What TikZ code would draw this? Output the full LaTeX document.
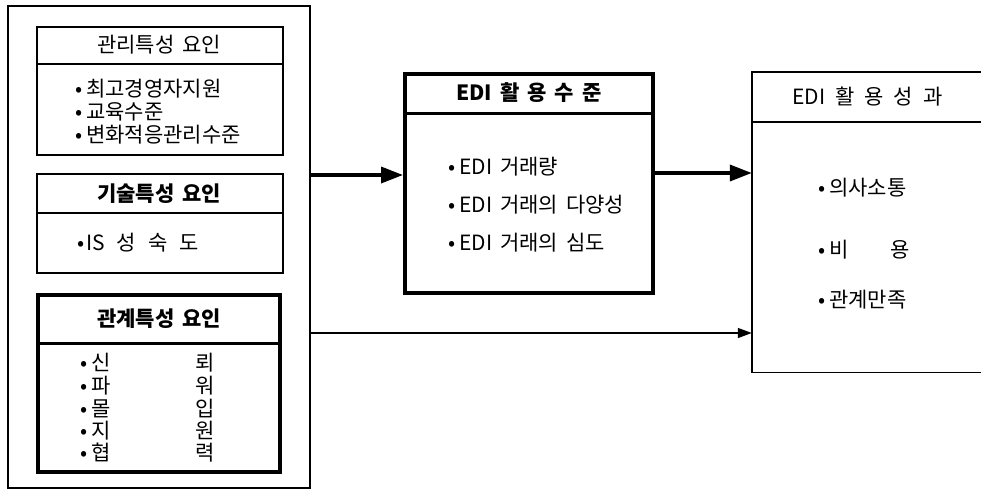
\documentclass[tikz,border=0pt]{standalone}
\usepackage{fontspec}
\setmainfont{Noto Sans CJK KR}
\usetikzlibrary{arrows.meta}
\newcommand{\puce}{•\hspace{4pt}}
\tikzstyle{cadre}=[draw,line width=1.4pt,inner sep=0pt]
\tikzstyle{gras}=[draw,line width=4pt,inner sep=0pt]
\tikzstyle{titre}=[inner sep=0pt,font={\fontsize{21}{25}\selectfont\spaceskip=8pt\relax}]
\tikzstyle{item}=[anchor=west,inner sep=0pt,font={\fontsize{21}{25}\selectfont\spaceskip=8pt\relax}]
\tikzstyle{fort}=[line width=3.5pt,-{Triangle[length=22pt,width=16pt]}]
\tikzstyle{fin}=[line width=1.4pt,-{Triangle[length=14pt,width=10pt]}]

\begin{document}
\begin{tikzpicture}[x=1pt,y=-1pt]
\useasboundingbox (0,0) rectangle (981,495);
%facteurs
\node[cadre,minimum width=302pt,minimum height=482pt] (F) at (159,247) {};
\begin{scope}
	%management
	\node[cadre,minimum width=246pt,minimum height=128pt] (M) at (160,91) {};
	\draw[line width=1.4pt] (M.west |- 0,64) -- (M.east |- 0,64);
	\node[titre] (Mt) at (159,45) {관리특성 요인};
	\node[item] (M1) at (75,89) {\puce 최고경영자지원};
	\node[item] (M2) at (75,112) {\puce 교육수준};
	\node[item] (M3) at (75,135) {\puce 변화적응관리수준};
	%technique
	\node[cadre,minimum width=246pt,minimum height=99pt] (T) at (160,223.5) {};
	\draw[line width=1.4pt] (T.west |- 0,213) -- (T.east |- 0,213);
	\node[titre] (Tt) at (159,194) {\bfseries 기술특성 요인};
	\node[item,font={\fontsize{21}{25}\selectfont\spaceskip=12pt\relax}] (T1) at (77,243) {•\hspace{2pt}IS 성 숙 도};
	%relation
	\node[gras,minimum width=242pt,minimum height=177pt] (R) at (159,383.5) {};
	\draw[line width=3pt] (R.west |- 0,343) -- (R.east |- 0,343);
	\node[titre] (Rt) at (159,319) {\bfseries 관계특성 요인};
	\node[item] (R1) at (80,363) {\makebox[115pt][l]{\puce 신}뢰};
	\node[item] (R2) at (80,386) {\makebox[115pt][l]{\puce 파}워};
	\node[item] (R3) at (80,409) {\makebox[115pt][l]{\puce 몰}입};
	\node[item] (R4) at (80,431) {\makebox[115pt][l]{\puce 지}원};
	\node[item] (R5) at (80,453) {\makebox[115pt][l]{\puce 협}력};
\end{scope}
%niveau EDI
\node[gras,minimum width=248pt,minimum height=219pt] (E) at (529,183.5) {};
\draw[line width=3pt] (E.west |- 0,113) -- (E.east |- 0,113);
\node[titre] (Et) at (529,93) {\bfseries EDI 활 용 수 준};
\node[item] (E1) at (448,167) {\puce EDI 거래량};
\node[item] (E2) at (448,205) {\puce EDI 거래의 다양성};
\node[item] (E3) at (448,243) {\puce EDI 거래의 심도};
%performance EDI
\node[inner sep=0pt,minimum width=229pt,minimum height=300pt] (P) at (866.5,222) {};
\draw[line width=1.4pt] (P.north east) -- (P.north west) -- (P.south west) -- (P.south east);
\draw[line width=1.4pt] (P.west |- 0,122) -- (P.east |- 0,122);
\node[item,font={\fontsize{21}{25}\selectfont\spaceskip=10pt\relax}] (Pt) at (792,97) {EDI 활 용 성 과};
\node[item] (P1) at (818,188) {\puce 의사소통};
\node[item] (P2) at (818,250) {\makebox[72pt][l]{\puce 비}용};
\node[item] (P3) at (818,300) {\puce 관계만족};
%fleches
\coordinate (a1) at (310,175);
\coordinate (a2) at (653,173);
\coordinate (a3) at (310,333);
\draw[fort] (F.east |- a1) -- (a1 -| E.west);
\draw[fort] (E.east |- a2) -- (a2 -| P.west);
\draw[fin] (F.east |- a3) -- (a3 -| P.west);
\end{tikzpicture}
\end{document}
